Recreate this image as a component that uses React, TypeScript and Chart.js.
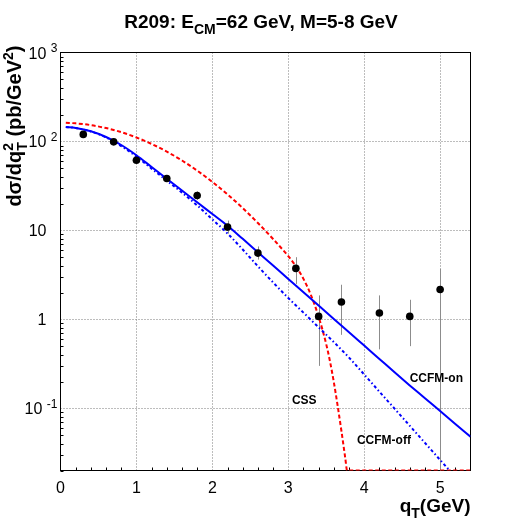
import React, { useEffect, useRef } from 'react';
import { Chart, registerables } from 'chart.js';

Chart.register(...registerables);

const FONT = '"Liberation Sans", Arial, Helvetica, sans-serif';

// CCFM-on (blue solid)
const onX = [0.07, 0.2, 0.4, 0.6, 0.8, 1.0, 1.2, 1.4, 1.6, 1.8, 2.0, 2.2, 2.4, 2.6, 2.8, 3.0, 3.2, 3.4, 3.6, 3.8, 4.0, 4.2, 4.4, 4.6, 4.8, 5.0, 5.2, 5.4];
const onY = [145.6, 141.9, 130, 112.2, 91.2, 70.0, 51.6, 38.1, 28.1, 20.7, 15.3, 11.3, 8.04, 5.69, 4.03, 2.85, 2.02, 1.43, 1.01, 0.716, 0.507, 0.359, 0.254, 0.181, 0.130, 0.0931, 0.0668, 0.048];

// CCFM-off (blue dash-dot)
const offX = [0.07, 0.2, 0.4, 0.6, 0.8, 1.0, 1.2, 1.4, 1.6, 1.8, 2.0, 2.2, 2.4, 2.6, 2.8, 3.0, 3.2, 3.4, 3.6, 3.8, 4.0, 4.2, 4.4, 4.6, 4.8, 5.0, 5.12];
const offY = [145.6, 141.9, 129.4, 110.9, 88.7, 67.6, 49.5, 36.3, 26.6, 19.1, 13.3, 9.23, 6.1, 3.95, 2.6, 1.74, 1.19, 0.813, 0.555, 0.372, 0.240, 0.154, 0.0991, 0.0637, 0.0409, 0.0263, 0.0202];

// CSS (red dashed)
const cssX = [0.07, 0.2, 0.4, 0.6, 0.8, 1.0, 1.2, 1.4, 1.6, 1.8, 2.0, 2.2, 2.4, 2.6, 2.8, 3.0, 3.1, 3.2, 3.3, 3.4, 3.5, 3.55, 3.6, 3.65, 3.7, 3.75, 3.775, 4.2, 4.6, 5.0, 5.4];
const cssY = [162.2, 159.7, 152.6, 141.5, 127.2, 110.9, 93.8, 76.9, 61.1, 47.0, 35.1, 25.4, 17.8, 12.1, 8.0, 5.13, 3.96, 2.85, 1.86, 1.07, 0.525, 0.335, 0.197, 0.107, 0.0556, 0.0279, 0.02, 0.02, 0.02, 0.02, 0.02];

// R209 data
const dataX = [0.3, 0.7, 1.0, 1.4, 1.8, 2.2, 2.6, 3.1, 3.4, 3.7, 4.2, 4.6, 5.0];
const dataY = [120, 99, 61.5, 38.4, 24.7, 10.9, 5.56, 3.74, 1.08, 1.57, 1.18, 1.08, 2.17];
const errLo = [112, 93, 57, 35.5, 22, 9.2, 4.7, 2.5, 0.30, 0.67, 0.46, 0.50, 0.02];
const errHi = [128, 105, 66, 41.5, 27.5, 12.9, 6.6, 5.0, 1.86, 2.45, 1.86, 1.66, 3.7];

// axes
const X_MIN = 0;
const X_MAX = 5.4;
const Y_MIN = 0.02;
const Y_MAX = 1000;
const xTickValues = [0, 1, 2, 3, 4, 5];
const xTickLabels = ['0', '1', '2', '3', '4', '5'];
const yTickValues = [0.1, 1, 10, 100, 1000];
const yTickBase = ['10', '1', '10', '10', '10'];
const yTickExp = ['-1', '', '', '2', '3'];

// curve labels
const annoText = ['CCFM-on', 'CSS', 'CCFM-off'];
const annoX = [4.95, 3.21, 4.26];
const annoY = [0.217, 0.123, 0.0437];

type Part = { t?: string; sub?: string; sup?: string };

function font(size: number, bold: boolean) {
  return `${bold ? 'bold ' : ''}${size}px ${FONT}`;
}

function drawRich(ctx: CanvasRenderingContext2D, parts: Part[], x: number, y: number, size: number, bold: boolean, align: 'left' | 'center' | 'right', smallRatio = 0.72) {
  const small = Math.round(size * smallRatio);
  const widths: number[] = [];
  let total = 0;
  for (const p of parts) {
    let w = 0;
    if (p.t !== undefined) {
      ctx.font = font(size, bold);
      w = ctx.measureText(p.t).width;
    } else {
      ctx.font = font(small, bold);
      w = Math.max(ctx.measureText(p.sub || '').width, ctx.measureText(p.sup || '').width);
    }
    widths.push(w);
    total += w;
  }
  let cx = align === 'left' ? x : align === 'center' ? x - total / 2 : x - total;
  ctx.textAlign = 'left';
  ctx.textBaseline = 'alphabetic';
  parts.forEach((p, i) => {
    if (p.t !== undefined) {
      ctx.font = font(size, bold);
      ctx.fillText(p.t, cx, y);
    } else {
      ctx.font = font(small, bold);
      if (p.sub) ctx.fillText(p.sub, cx, y + size * 0.3);
      if (p.sup) ctx.fillText(p.sup, cx, y - size * 0.42);
    }
    cx += widths[i];
  });
}

const decorPlugin = {
  id: 'decor',
  beforeDatasetsDraw(chart: any) {
    const { ctx, chartArea: a, scales } = chart;
    const xs = scales.x;
    const ys = scales.y;
    ctx.save();
    // grid
    ctx.strokeStyle = '#7a7a7a';
    ctx.lineWidth = 1;
    ctx.setLineDash([1, 2]);
    for (const v of xTickValues) {
      if (v <= X_MIN || v >= X_MAX) continue;
      const px = Math.round(xs.getPixelForValue(v)) + 0.5;
      ctx.beginPath();
      ctx.moveTo(px, a.top);
      ctx.lineTo(px, a.bottom);
      ctx.stroke();
    }
    for (const v of yTickValues) {
      if (v <= Y_MIN || v >= Y_MAX) continue;
      const py = Math.round(ys.getPixelForValue(v)) + 0.5;
      ctx.beginPath();
      ctx.moveTo(a.left, py);
      ctx.lineTo(a.right, py);
      ctx.stroke();
    }
    ctx.setLineDash([]);
    // frame
    ctx.strokeStyle = '#000';
    ctx.lineWidth = 1;
    ctx.strokeRect(a.left, a.top, a.right - a.left, a.bottom - a.top);
    // minor ticks
    ctx.beginPath();
    for (let k = 1; k * 0.2 < X_MAX - 1e-6; k++) {
      const v = k * 0.2;
      if (Math.abs(v - Math.round(v)) < 1e-6) continue;
      const px = Math.round(xs.getPixelForValue(v)) + 0.5;
      ctx.moveTo(px, a.bottom);
      ctx.lineTo(px, a.bottom - 3);
    }
    for (let e = -2; e <= 2; e++) {
      for (let m = 2; m <= 9; m++) {
        const v = m * Math.pow(10, e);
        if (v <= Y_MIN - 1e-9 || v >= Y_MAX) continue;
        const py = Math.round(ys.getPixelForValue(v)) + 0.5;
        ctx.moveTo(a.left, py);
        ctx.lineTo(a.left + 3, py);
      }
    }
    ctx.stroke();
    // error bars
    ctx.strokeStyle = '#8c8c8c';
    ctx.lineWidth = 1;
    for (let i = 0; i < dataX.length; i++) {
      const px = Math.round(xs.getPixelForValue(dataX[i])) + 0.5;
      const p1 = ys.getPixelForValue(Math.max(errLo[i], Y_MIN));
      const p2 = ys.getPixelForValue(Math.min(errHi[i], Y_MAX));
      ctx.beginPath();
      ctx.moveTo(px, p1);
      ctx.lineTo(px, p2);
      ctx.stroke();
    }
    ctx.restore();
  },
  afterDraw(chart: any) {
    const { ctx, chartArea: a, scales } = chart;
    const xs = scales.x;
    const ys = scales.y;
    ctx.save();
    // tick labels
    ctx.fillStyle = '#000';
    ctx.font = font(16, false);
    ctx.textAlign = 'center';
    ctx.textBaseline = 'alphabetic';
    xTickValues.forEach((v, i) => {
      ctx.fillText(xTickLabels[i], xs.getPixelForValue(v), a.bottom + 22);
    });
    yTickValues.forEach((v, i) => {
      const py = ys.getPixelForValue(v) + 6;
      if (yTickExp[i]) {
        drawRich(ctx, [{ t: yTickBase[i] + ' ' }, { sup: yTickExp[i] }], a.left - 3, py, 16, false, 'right');
      } else {
        ctx.font = font(16, false);
        ctx.textAlign = 'right';
        ctx.fillText(yTickBase[i], a.left - 14, py);
      }
    });
    // title
    drawRich(ctx, [{ t: 'R209: E' }, { sub: 'CM' }, { t: '=62 GeV, M=5-8 GeV' }], 261, 28, 19, true, 'center', 0.75);
    // x title
    drawRich(ctx, [{ t: 'q' }, { sub: 'T' }, { t: '(GeV)' }], a.right, 512, 19, true, 'right');
    // y title
    ctx.save();
    ctx.translate(21, a.top - 7);
    ctx.rotate(-Math.PI / 2);
    drawRich(ctx, [{ t: 'd\u03C3/dq' }, { sub: 'T', sup: '2' }, { t: ' (pb/GeV' }, { sup: '2' }, { t: ')' }], 0, 0, 20, true, 'right');
    ctx.restore();
    // curve labels
    ctx.font = font(12, true);
    ctx.textAlign = 'center';
    ctx.textBaseline = 'middle';
    annoText.forEach((t, i) => {
      ctx.fillText(t, xs.getPixelForValue(annoX[i]), ys.getPixelForValue(annoY[i]));
    });
    ctx.restore();
  },
};

function pts(xs: number[], ys: number[]) {
  return xs.map((x, i) => ({ x, y: ys[i] }));
}

export default function App() {
  const ref = useRef<HTMLCanvasElement>(null);
  useEffect(() => {
    document.body.style.margin = '0';
    const canvas = ref.current!;
    const chart = new Chart(canvas, {
      type: 'line',
      data: {
        datasets: [
          {
            label: 'R209',
            data: pts(dataX, dataY),
            showLine: false,
            pointRadius: 3.8,
            pointBackgroundColor: '#000',
            pointBorderWidth: 0,
            order: 0,
          },
          {
            label: 'CCFM-on',
            data: pts(onX, onY),
            borderColor: '#0000ff',
            borderWidth: 2,
            pointRadius: 0,
            cubicInterpolationMode: 'monotone',
            order: 1,
          },
          {
            label: 'CCFM-off',
            data: pts(offX, offY),
            borderColor: '#0000ff',
            borderWidth: 2,
            borderDash: [3, 2.5, 1.5, 2.5],
            pointRadius: 0,
            cubicInterpolationMode: 'monotone',
            order: 2,
          },
          {
            label: 'CSS',
            data: pts(cssX, cssY),
            borderColor: '#ff0000',
            borderWidth: 2,
            borderDash: [4, 2.5],
            pointRadius: 0,
            cubicInterpolationMode: 'monotone',
            order: 3,
          },
        ],
      },
      options: {
        responsive: false,
        animation: false,
        layout: { padding: { left: 60.5, right: 52.5, top: 52.5, bottom: 52.5 } },
        scales: {
          x: { type: 'linear', min: X_MIN, max: X_MAX, display: false },
          y: { type: 'logarithmic', min: Y_MIN, max: Y_MAX, display: false },
        },
        plugins: { legend: { display: false }, tooltip: { enabled: false }, title: { display: false } },
      },
      plugins: [decorPlugin],
    } as any);
    return () => chart.destroy();
  }, []);
  return <canvas ref={ref} width={523} height={523} style={{ display: 'block' }} />;
}
